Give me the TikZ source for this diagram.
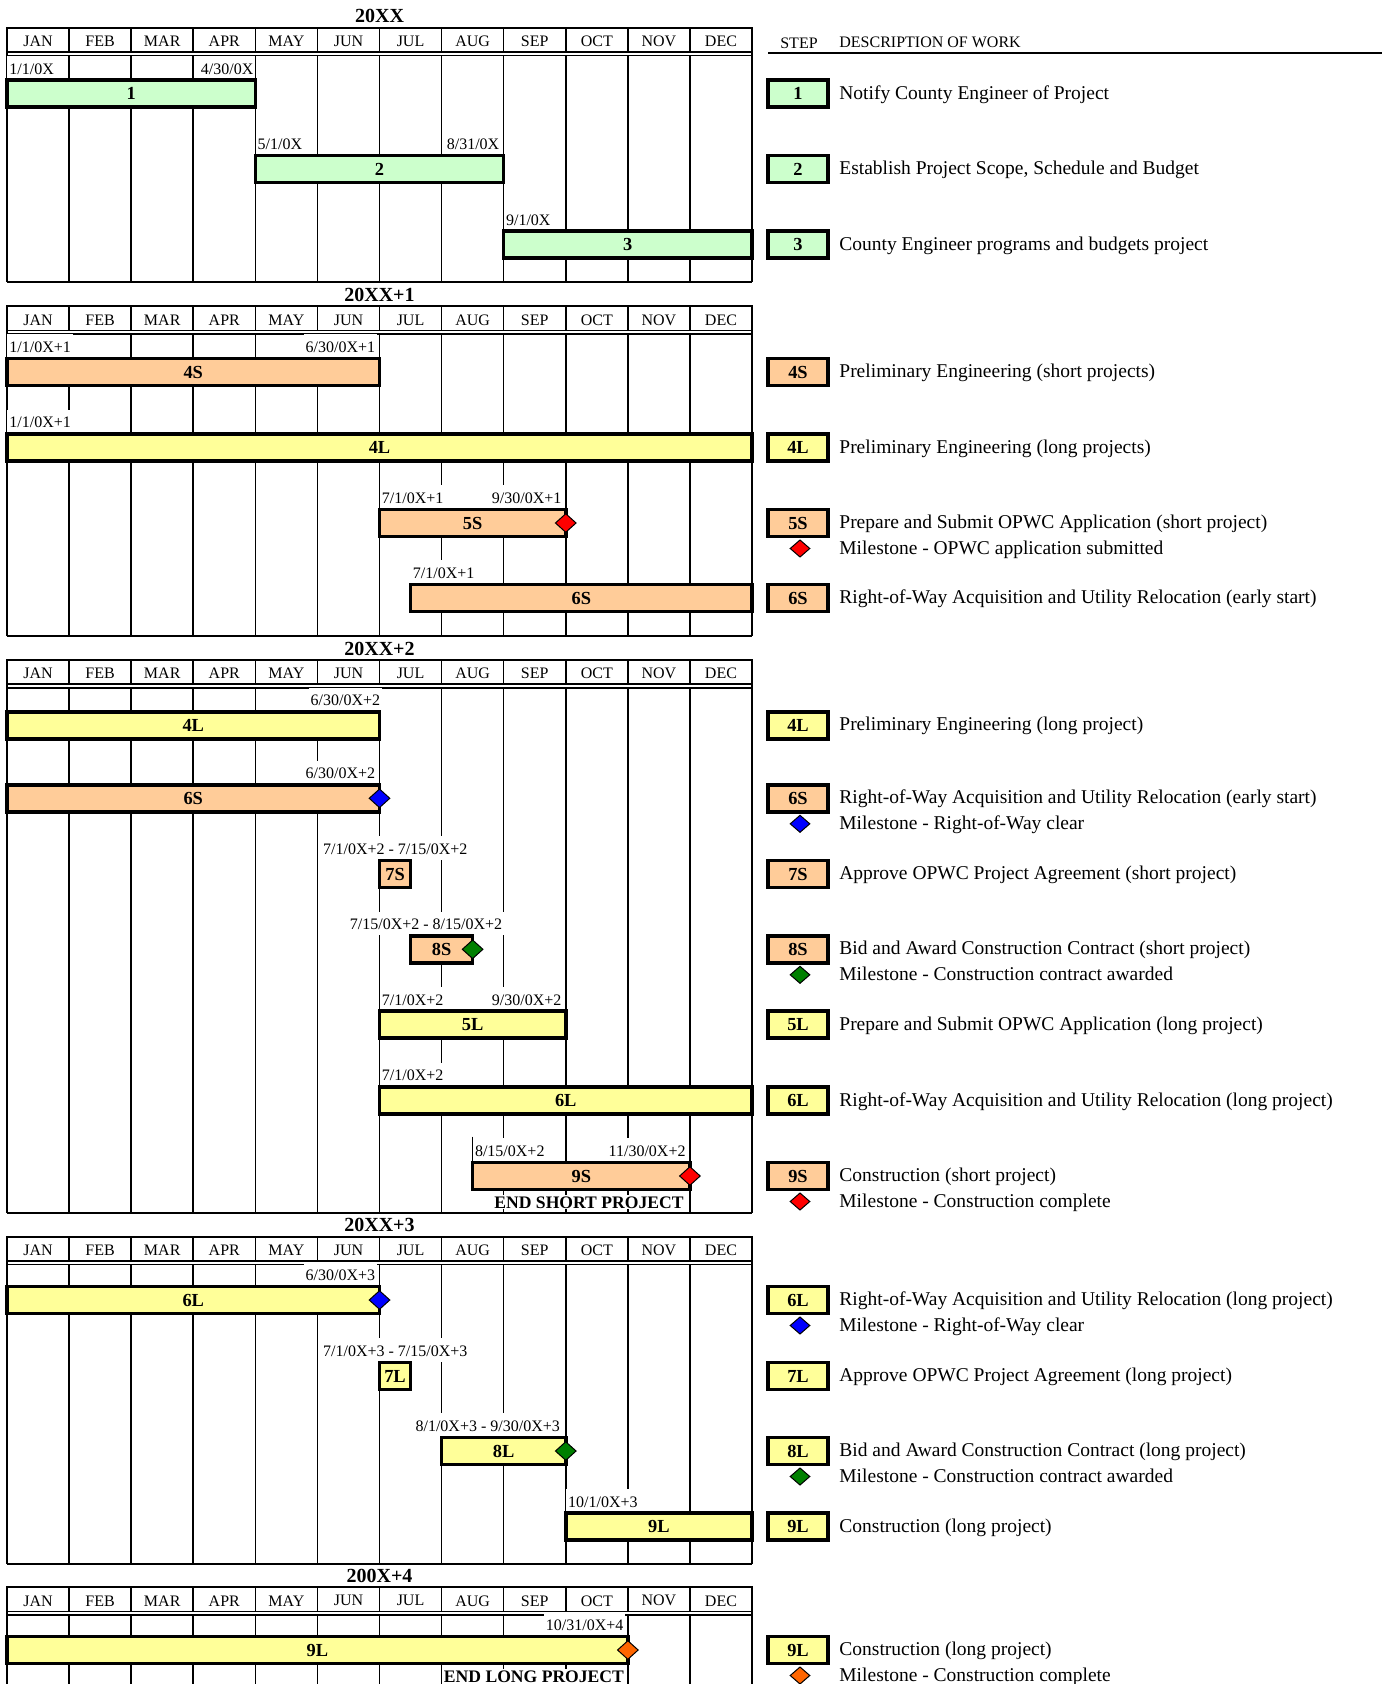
\documentclass[tikz,border=0pt]{standalone}
\usepackage{fontspec}
\setmainfont{Liberation Serif}
\usetikzlibrary{shapes.geometric}
\definecolor{cgreen}{HTML}{CCFFCC}
\definecolor{corange}{HTML}{FFCC99}
\definecolor{cyellow}{HTML}{FFFF99}
\definecolor{mred}{HTML}{FF0000}
\definecolor{mblue}{HTML}{0000FF}
\definecolor{mgreen}{HTML}{008000}
\definecolor{morange}{HTML}{FF6600}
\newcommand{\MX}[1]{7+(#1)*62.0833}
% section grid: #1 top, #2 bottom, #3 title, #4 name
\newcommand{\gsection}[4]{%
  \node[ytitle] (#4t) at (379.5, #1-11.5) {#3};
  \draw[gframe] (7,#2) -- (7,#1) -- (752,#1) -- (752,#2);
  \draw[gline] (7,#1+24) -- (752,#1+24);
  \draw[gline] (7,#1+27.8) -- (752,#1+27.8);
  \foreach \m [count=\i from 0] in {JAN,FEB,MAR,APR,MAY,JUN,JUL,AUG,SEP,OCT,NOV,DEC} {
    \node[mon] (#4m\i) at ({\MX{\i+0.5}}, #1+13.5) {\m};
  }
  \foreach \i in {1,...,11} {
    \draw[gline] ({\MX{\i}}, #1) -- ({\MX{\i}}, #1+24);
    \draw[gline] ({\MX{\i}}, #1+27.8) -- ({\MX{\i}}, #2);
  }
}
% bar: name, start, end, yc, colour, label
\newcommand{\gb}[6]{\node[gbar, fill=#5, minimum width={((#3)-(#2))*31.04165pt}] (#1) at ({\MX{#2}}, #4) {#6};}
% date labels
\newcommand{\dls}[4]{\node[dlab, anchor=south west] (#1) at ({\MX{#2}}, #3-13.5) {#4};}
\newcommand{\dle}[4]{\node[dlab, anchor=south east] (#1) at ({\MX{#2}-2}, #3-13.5) {#4};}
\newcommand{\dlc}[4]{\node[dlab, anchor=south] (#1) at (#2, #3-13.5) {#4};}
% milestone on chart
\newcommand{\gm}[4]{\node[ms, fill=#4] (#1) at ({\MX{#2}}, #3) {};}
% legend entries
\newcommand{\leg}[5]{%
  \node[lbox, fill=#3] (#1b) at (798, #2) {#4};
  \node[ldesc] (#1d) at (839, #2+5.5) {#5};}
\newcommand{\legm}[4]{%
  \node[lms, fill=#3] (#1m) at (800, #2+25.5) {};
  \node[ldesc] (#1t) at (839, #2+31.5) {#4};}
\begin{document}
\begin{tikzpicture}[x=0.5pt,y=-0.5pt,
  gframe/.style={line width=1pt},
  gline/.style={line width=0.8pt},
  gbar/.style={draw, line width=1.8pt, outer sep=0pt, inner sep=0pt, minimum height=13.5pt,
    font=\fontsize{9.2}{10}\selectfont\bfseries, anchor=west},
  dlab/.style={fill=white, inner xsep=1pt, inner ysep=1.2pt, text height=7.9pt, text depth=1.65pt,
    font=\fontsize{8}{9}\selectfont},
  mon/.style={font=\fontsize{8}{9}\selectfont, inner sep=0pt},
  ytitle/.style={font=\fontsize{10}{12}\selectfont\bfseries, inner sep=0pt},
  lbox/.style={draw, line width=1.8pt, minimum width=30pt, minimum height=13.5pt, inner sep=0pt,
    font=\fontsize{9.2}{10}\selectfont\bfseries},
  ldesc/.style={anchor=base west, inner sep=0pt, font=\fontsize{9.75}{12}\selectfont},
  ms/.style={diamond, draw, line width=0.5pt, inner sep=0pt, minimum width=10.5pt, minimum height=9.5pt},
  lms/.style={ms, minimum width=10pt, minimum height=8.7pt},
  endlab/.style={fill=white, inner xsep=0.5pt, inner ysep=0.6pt, text height=6.2pt, text depth=0pt,
    font=\fontsize{8.8}{10}\selectfont\bfseries}
]
\useasboundingbox (0,0) rectangle (1388,1684);
\fill[white] (0,0) rectangle (1388,1684);

% ---------- grids ----------
\gsection{27.8}{282}{20XX}{sa}
\draw[gframe] (7,282) -- (752,282);
\gsection{306.5}{636}{20XX+1}{sb}
\draw[gframe] (7,636) -- (752,636);
\gsection{660}{1213}{20XX+2}{sc}
\draw[gframe] (7,1213) -- (752,1213);
\gsection{1236.7}{1564}{20XX+3}{sd}
\draw[gframe] (7,1564) -- (752,1564);
\gsection{1587.3}{1684}{200X+4}{se}

% ---------- legend header ----------
\node[mon] (hstep) at (799, 42.8) {STEP};
\node[mon, anchor=west] (hdesc) at (839, 42.8) {DESCRIPTION OF WORK};
\coordinate (hl1) at (768, 53.5);
\coordinate (hl2) at (1382, 53.5);
\draw[gframe] (hl1) -- (hl2);

% ---------- 20XX ----------
\dls{a1s}{0}{93.7}{1/1/0X}
\dle{a1e}{4.04}{93.7}{4/30/0X}
\gb{a1}{0}{4}{93.7}{cgreen}{1}
\dls{a2s}{4}{169.2}{5/1/0X}
\dle{a2e}{8}{169.2}{8/31/0X}
\gb{a2}{4}{8}{169.2}{cgreen}{2}
\dls{a3s}{8}{244.7}{9/1/0X}
\gb{a3}{8}{12}{244.7}{cgreen}{3}
\leg{la1}{93.7}{cgreen}{1}{Notify County Engineer of Project}
\leg{la2}{169.2}{cgreen}{2}{Establish Project Scope, Schedule and Budget}
\leg{la3}{244.7}{cgreen}{3}{County Engineer programs and budgets project}

% ---------- 20XX+1 ----------
\dls{b4ss}{0}{372}{1/1/0X+1}
\dle{b4se}{6}{372}{6/30/0X+1}
\gb{b4s}{0}{6}{372}{corange}{4S}
\dls{b4ls}{0}{447.5}{1/1/0X+1}
\gb{b4l}{0}{12}{447.5}{cyellow}{4L}
\dls{b5ss}{6}{523}{7/1/0X+1}
\dle{b5se}{9}{523}{9/30/0X+1}
\gb{b5s}{6}{9}{523}{corange}{5S}
\gm{b5sm}{9}{523}{mred}
\dls{b6ss}{6.5}{598}{7/1/0X+1}
\gb{b6s}{6.5}{12}{598}{corange}{6S}
\leg{lb1}{372}{corange}{4S}{Preliminary Engineering (short projects)}
\leg{lb2}{447.5}{cyellow}{4L}{Preliminary Engineering (long projects)}
\leg{lb3}{523}{corange}{5S}{Prepare and Submit OPWC Application (short project)}
\legm{lb3}{523}{mred}{Milestone - OPWC application submitted}
\leg{lb4}{598}{corange}{6S}{Right-of-Way Acquisition and Utility Relocation (early start)}

% ---------- 20XX+2 ----------
\dle{c4le}{6.08}{725.3}{6/30/0X+2}
\gb{c4l}{0}{6}{725.3}{cyellow}{4L}
\dle{c6se}{6}{798.3}{6/30/0X+2}
\gb{c6s}{0}{6}{798.3}{corange}{6S}
\gm{c6sm}{6}{798.3}{mblue}
\dlc{c7sd}{395.3}{874}{7/1/0X+2 - 7/15/0X+2}
\gb{c7s}{6}{6.5}{874}{corange}{7S}
\dlc{c8sd}{426}{949.3}{7/15/0X+2 - 8/15/0X+2}
\gb{c8s}{6.5}{7.5}{949.3}{corange}{8S}
\gm{c8sm}{7.5}{949.3}{mgreen}
\dls{c5ls}{6}{1024.7}{7/1/0X+2}
\dle{c5le}{9}{1024.7}{9/30/0X+2}
\gb{c5l}{6}{9}{1024.7}{cyellow}{5L}
\dls{c6ls}{6}{1100.5}{7/1/0X+2}
\gb{c6l}{6}{12}{1100.5}{cyellow}{6L}
\dls{c9ss}{7.5}{1176}{8/15/0X+2}
\dle{c9se}{11}{1176}{11/30/0X+2}
\coordinate (c9tA) at ({\MX{7.5}}, 1136.5);
\coordinate (c9tB) at ({\MX{7.5}}, 1162.5);
\draw[gline] (c9tA) -- (c9tB);
\gb{c9s}{7.5}{11}{1176}{corange}{9S}
\gm{c9sm}{11}{1176}{mred}
\node[endlab, anchor=east] (cend) at ({\MX{11}-5}, 1202) {END SHORT PROJECT};
\leg{lc1}{725.3}{cyellow}{4L}{Preliminary Engineering (long project)}
\leg{lc2}{798.3}{corange}{6S}{Right-of-Way Acquisition and Utility Relocation (early start)}
\legm{lc2}{798.3}{mblue}{Milestone - Right-of-Way clear}
\leg{lc3}{874}{corange}{7S}{Approve OPWC Project Agreement (short project)}
\leg{lc4}{949.3}{corange}{8S}{Bid and Award Construction Contract (short project)}
\legm{lc4}{949.3}{mgreen}{Milestone - Construction contract awarded}
\leg{lc5}{1024.7}{cyellow}{5L}{Prepare and Submit OPWC Application (long project)}
\leg{lc6}{1100.5}{cyellow}{6L}{Right-of-Way Acquisition and Utility Relocation (long project)}
\leg{lc7}{1176}{corange}{9S}{Construction (short project)}
\legm{lc7}{1176}{mred}{Milestone - Construction complete}

% ---------- 20XX+3 ----------
\dle{d6le}{6}{1300}{6/30/0X+3}
\gb{d6l}{0}{6}{1300}{cyellow}{6L}
\gm{d6lm}{6}{1300}{mblue}
\dlc{d7ld}{395.3}{1376}{7/1/0X+3 - 7/15/0X+3}
\gb{d7l}{6}{6.5}{1376}{cyellow}{7L}
\dlc{d8ld}{487.7}{1451}{8/1/0X+3 - 9/30/0X+3}
\gb{d8l}{7}{9}{1451}{cyellow}{8L}
\gm{d8lm}{9}{1451}{mgreen}
\dls{d9ls}{9}{1526.7}{10/1/0X+3}
\gb{d9l}{9}{12}{1526.7}{cyellow}{9L}
\leg{ld1}{1300}{cyellow}{6L}{Right-of-Way Acquisition and Utility Relocation (long project)}
\legm{ld1}{1300}{mblue}{Milestone - Right-of-Way clear}
\leg{ld2}{1376}{cyellow}{7L}{Approve OPWC Project Agreement (long project)}
\leg{ld3}{1451}{cyellow}{8L}{Bid and Award Construction Contract (long project)}
\legm{ld3}{1451}{mgreen}{Milestone - Construction contract awarded}
\leg{ld4}{1526.7}{cyellow}{9L}{Construction (long project)}

% ---------- 200X+4 ----------
\dle{e9le}{10}{1650}{10/31/0X+4}
\gb{e9l}{0}{10}{1650}{cyellow}{9L}
\gm{e9lm}{10}{1650}{morange}
\node[endlab, anchor=west] (eend) at ({\MX{7}+1}, 1676.7) {END LONG PROJECT};
\leg{le1}{1650}{cyellow}{9L}{Construction (long project)}
\legm{le1}{1650}{morange}{Milestone - Construction complete}
\end{tikzpicture}
\end{document}
